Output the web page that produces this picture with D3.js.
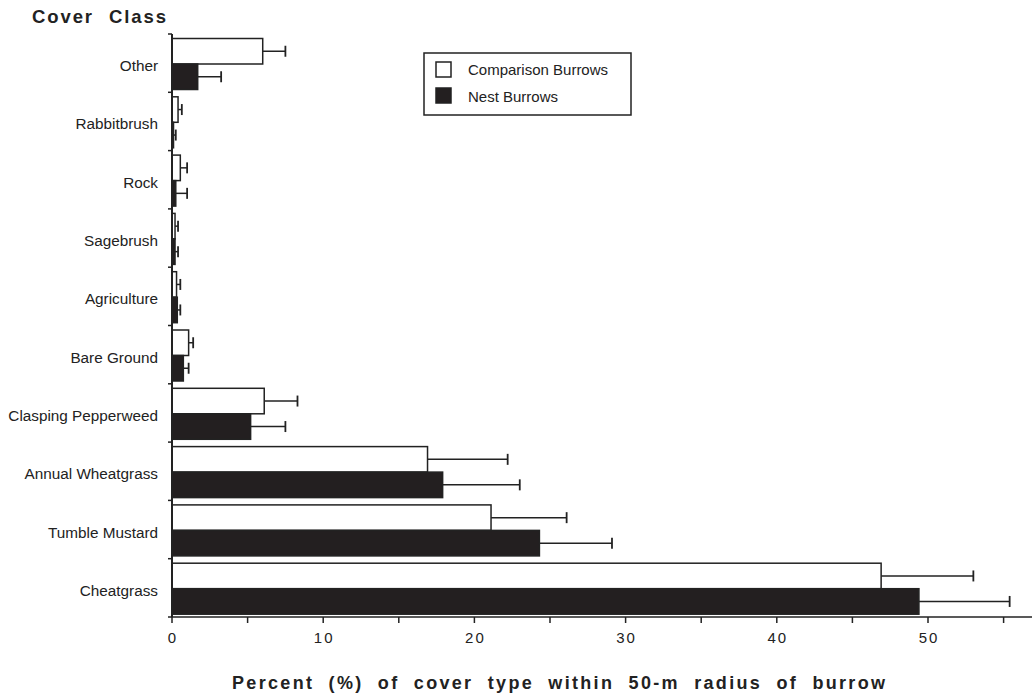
<!DOCTYPE html>
<html>
<head>
<meta charset="utf-8">
<script src="https://cdn.jsdelivr.net/npm/d3@7"></script>
<style>
  body { margin: 0; background: #fff; }
  svg { font-family: "Liberation Sans", Arial, sans-serif; }
</style>
</head>
<body>
<div id="vis"></div>
<script>
// cover classes, top to bottom
const categories = ["Other", "Rabbitbrush", "Rock", "Sagebrush", "Agriculture", "Bare Ground",
  "Clasping Pepperweed", "Annual Wheatgrass", "Tumble Mustard", "Cheatgrass"];
// mean percent cover and upper error bar end
const comparison = [6.0, 0.4, 0.55, 0.2, 0.3, 1.1, 6.1, 16.9, 21.1, 46.9];
const comparisonErr = [7.5, 0.65, 1.0, 0.4, 0.55, 1.4, 8.3, 22.2, 26.1, 53.0];
const nest = [1.7, 0.1, 0.25, 0.2, 0.35, 0.75, 5.2, 17.9, 24.3, 49.4];
const nestErr = [3.25, 0.25, 1.0, 0.4, 0.55, 1.1, 7.5, 23.0, 29.1, 55.4];
const xTicks = [0, 10, 20, 30, 40, 50];
const xMinorTicks = [5, 15, 25, 35, 45, 55];
const series = [
  { name: "Comparison Burrows", values: comparison, err: comparisonErr, fill: "#fff" },
  { name: "Nest Burrows", values: nest, err: nestErr, fill: "#231f20" },
];

const width = 1032, height = 694;
const margin = { top: 34, left: 172, bottom: 617 };

const svg = d3.select("#vis").append("svg")
  .attr("width", width)
  .attr("height", height);

const x = d3.scaleLinear().domain([0, 50]).range([margin.left, margin.left + 756]);
const y = d3.scaleBand().domain(categories).range([margin.top, margin.bottom]);
const barH = 25.5;
const barOff = 4.5;

// bars + error bars
series.forEach((s, si) => {
  const g = svg.append("g");
  categories.forEach((c, i) => {
    const y0 = y(c) + barOff + si * barH;
    const yc = y0 + barH / 2;
    g.append("line")
      .attr("x1", x(s.values[i])).attr("x2", x(s.err[i]))
      .attr("y1", yc).attr("y2", yc)
      .attr("stroke", "#222").attr("stroke-width", 1.5);
    g.append("line")
      .attr("x1", x(s.err[i])).attr("x2", x(s.err[i]))
      .attr("y1", yc - 5.5).attr("y2", yc + 5.5)
      .attr("stroke", "#222").attr("stroke-width", 1.8);
    g.append("rect")
      .attr("x", x(0))
      .attr("y", y0)
      .attr("width", Math.max(x(s.values[i]) - x(0), 1.5))
      .attr("height", barH)
      .attr("fill", s.fill)
      .attr("stroke", "#222")
      .attr("stroke-width", 1.5);
  });
});

// y axis
svg.append("line")
  .attr("x1", x(0)).attr("x2", x(0))
  .attr("y1", margin.top).attr("y2", margin.bottom)
  .attr("stroke", "#222").attr("stroke-width", 2);
const bounds = categories.map(c => y(c)).concat([margin.bottom]);
svg.append("g").selectAll("line").data(bounds).join("line")
  .attr("x1", x(0) - 4).attr("x2", x(0))
  .attr("y1", d => d).attr("y2", d => d)
  .attr("stroke", "#222").attr("stroke-width", 1.5);
svg.append("g").selectAll("text").data(categories).join("text")
  .attr("x", 158)
  .attr("y", d => y(d) + y.bandwidth() / 2 + 8)
  .attr("text-anchor", "end")
  .attr("font-size", 15.3)
  .attr("fill", "#222")
  .text(d => d);

// x axis
svg.append("line")
  .attr("x1", x(0)).attr("x2", width)
  .attr("y1", margin.bottom).attr("y2", margin.bottom)
  .attr("stroke", "#222").attr("stroke-width", 1.5);
svg.append("g").selectAll("line").data(xTicks.concat(xMinorTicks)).join("line")
  .attr("x1", d => x(d)).attr("x2", d => x(d))
  .attr("y1", margin.bottom).attr("y2", margin.bottom + 6)
  .attr("stroke", "#222").attr("stroke-width", 1.5);
svg.append("g").selectAll("text").data(xTicks).join("text")
  .attr("x", d => x(d) + 1)
  .attr("y", margin.bottom + 26)
  .attr("text-anchor", "middle")
  .attr("font-size", 15)
  .attr("letter-spacing", 2)
  .attr("fill", "#222")
  .text(d => d);

// titles
svg.append("text")
  .attr("x", 32).attr("y", 23)
  .attr("font-size", 18.5).attr("font-weight", "bold")
  .attr("letter-spacing", 2).attr("word-spacing", 8)
  .attr("fill", "#222")
  .attr("textLength", 136)
  .text("Cover Class");
svg.append("text")
  .attr("x", 232).attr("y", 689)
  .attr("font-size", 18).attr("font-weight", "bold")
  .attr("letter-spacing", 2).attr("word-spacing", 7)
  .attr("fill", "#222")
  .attr("textLength", 655)
  .text("Percent (%) of cover type within 50-m radius of burrow");

// legend
const lg = svg.append("g");
lg.append("rect")
  .attr("x", 424).attr("y", 53).attr("width", 207).attr("height", 62)
  .attr("fill", "#fff").attr("stroke", "#222").attr("stroke-width", 1.5);
series.forEach((s, i) => {
  lg.append("rect")
    .attr("x", 436).attr("y", 62 + i * 26).attr("width", 15).attr("height", 15)
    .attr("fill", s.fill).attr("stroke", "#222").attr("stroke-width", 1.5);
  lg.append("text")
    .attr("x", 468).attr("y", 75 + i * 27)
    .attr("font-size", 15).attr("fill", "#222")
    .text(s.name);
});
</script>
</body>
</html>
